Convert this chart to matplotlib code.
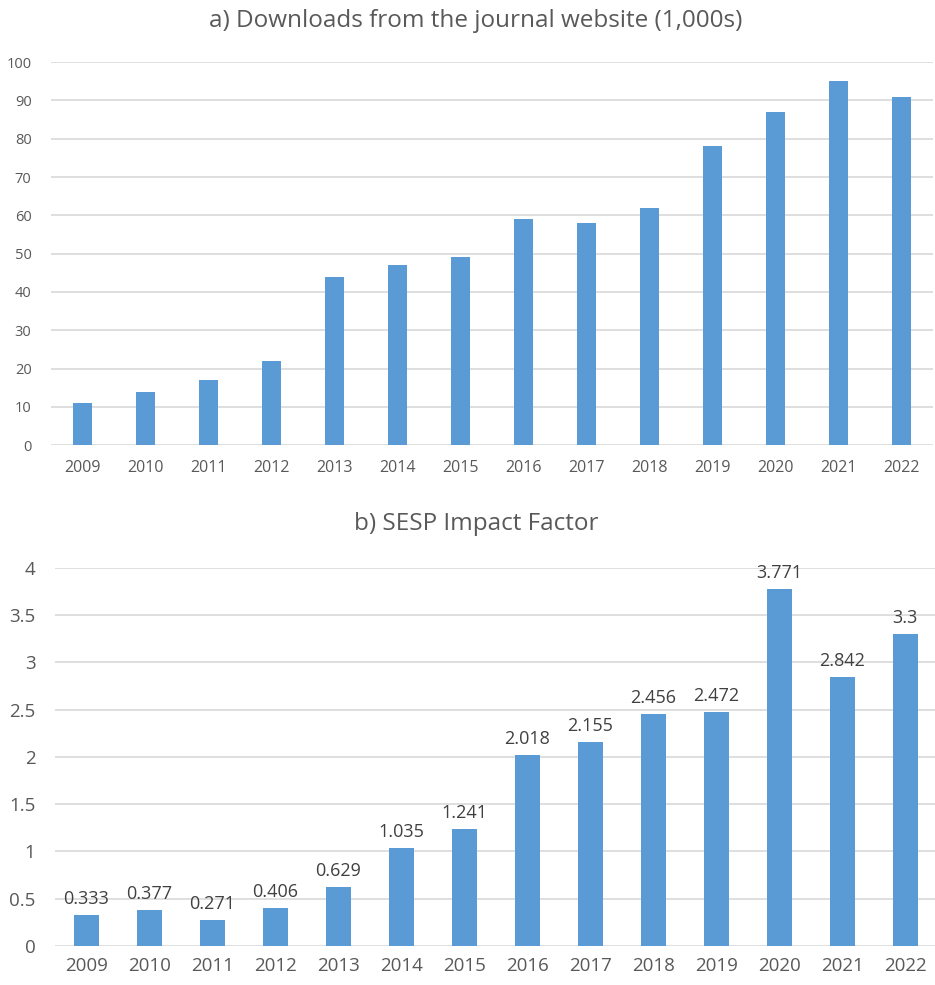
import matplotlib.pyplot as plt

plt.rcParams['font.family'] = ['Open Sans', 'DejaVu Sans']

years = ["2009", "2010", "2011", "2012", "2013", "2014", "2015",
         "2016", "2017", "2018", "2019", "2020", "2021", "2022"]
downloads = [11, 14, 17, 22, 44, 47, 49, 59, 58, 62, 78, 87, 95, 91]
impact = [0.333, 0.377, 0.271, 0.406, 0.629, 1.035, 1.241,
          2.018, 2.155, 2.456, 2.472, 3.771, 2.842, 3.3]
impact_labels = ["0.333", "0.377", "0.271", "0.406", "0.629", "1.035", "1.241",
                 "2.018", "2.155", "2.456", "2.472", "3.771", "2.842", "3.3"]

bar_color = "#5B9BD5"
grid_color = "#D9D9D9"
text_color = "#595959"

fig = plt.figure(figsize=(9.35, 9.85), dpi=100)
ax1 = fig.add_axes([0.0545, 0.548, 0.943, 0.389])
ax2 = fig.add_axes([0.0588, 0.0396, 0.943, 0.384])

x = list(range(len(years)))


def style(ax, ticks, fs):
    for s in ax.spines.values():
        s.set_visible(False)
    ax.set_yticks(ticks)
    ax.yaxis.grid(True, color=grid_color, linewidth=1.2)
    ax.set_axisbelow(True)
    ax.tick_params(length=0, colors=text_color, labelsize=fs)
    ax.tick_params(axis='y', pad=14)
    ax.set_xlim(-0.5, len(years) - 0.5)
    ax.set_xticks(x)
    ax.set_xticklabels(years)


# a) downloads
ax1.bar(x, downloads, width=0.3, color=bar_color)
style(ax1, range(0, 101, 10), 10.5)
ax1.tick_params(axis='x', labelsize=11.5, pad=11)
ax1.set_ylim(0, 100)
fig.text(0.509, 0.979, "a) Downloads from the journal website (1,000s)",
         fontsize=17.5, color=text_color, ha="center", va="center")

# b) impact factor
ax2.bar(x, impact, width=0.4, color=bar_color)
style(ax2, [0, 0.5, 1, 1.5, 2, 2.5, 3, 3.5, 4], 13.5)
ax2.set_yticklabels(["0", "0.5", "1", "1.5", "2", "2.5", "3", "3.5", "4"])
ax2.set_ylim(0, 4)
ax2.tick_params(axis='x', pad=8)
for xi, v, lab in zip(x, impact, impact_labels):
    ax2.annotate(lab, (xi, v), xytext=(0, 5), textcoords="offset points",
                 ha="center", va="bottom", fontsize=13, color="#404040")
fig.text(0.509, 0.468, "b) SESP Impact Factor",
         fontsize=17.5, color=text_color, ha="center", va="center")

fig.savefig("out.png", dpi=100)
